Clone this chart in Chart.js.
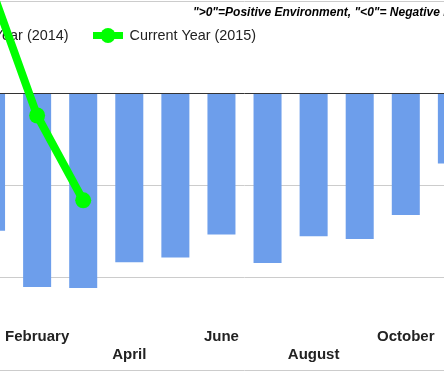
<!DOCTYPE html>
<html lang="en">
<head>
  <meta charset="UTF-8" />
  <title>Environment</title>
  <script src="https://cdn.jsdelivr.net/npm/chart.js"></script>
  <style>
    html, body {
      margin: 0;
      width: 444px;
      height: 371px;
      overflow: hidden;
      background: #fff;
    }

    #chart {
      position: absolute;
      left: -40px;
      top: -100px;
    }
  </style>
</head>
<body>

<canvas id="chart" width="600" height="490"></canvas>

<script>
  const months = ['January', 'February', 'March', 'April', 'May', 'June',
    'July', 'August', 'September', 'October', 'November', 'December'];
  const prevYear = [-1.49, -2.10, -2.11, -1.83, -1.78, -1.53, -1.84, -1.55, -1.58, -1.32, -0.76, -0.60];
  const currYear = [1.15, -0.24, -1.16, null, null, null, null, null, null, null, null, null];
  const prevLabel = 'Previous Year (2014)';
  const currLabel = 'Current Year (2015)';
  const titleText = '">0"=Positive Environment, "<0"= Negative Environment';
  const yMin = -3;
  const yMax = 2;

  const blue = '#6d9eeb';
  const green = '#00ff00';

  // title + legend drawn under the datasets, like the original
  const headerPlugin = {
    id: 'header',
    beforeDatasetsDraw(chart) {
      const ctx = chart.ctx;
      ctx.save();
      ctx.translate(40, 100);

      ctx.fillStyle = '#000';
      ctx.font = 'italic bold 12px "Liberation Sans", Arial, sans-serif';
      ctx.textBaseline = 'middle';
      ctx.textAlign = 'left';
      ctx.fillText(titleText, 193, 12.5);

      ctx.font = '14.4px "Liberation Sans", Arial, sans-serif';
      ctx.fillStyle = '#222';
      const prevW = ctx.measureText(prevLabel).width;
      const prevX = 68.5 - prevW;
      ctx.fillText(prevLabel, prevX, 36);
      ctx.fillStyle = blue;
      ctx.fillRect(prevX - 22, 29, 14, 14);

      ctx.strokeStyle = green;
      ctx.lineWidth = 7;
      ctx.beginPath();
      ctx.moveTo(93, 35.5);
      ctx.lineTo(123, 35.5);
      ctx.stroke();
      ctx.fillStyle = green;
      ctx.beginPath();
      ctx.arc(108, 35.5, 7.5, 0, Math.PI * 2);
      ctx.fill();

      ctx.fillStyle = '#222';
      ctx.fillText(currLabel, 129.5, 36);
      ctx.restore();
    }
  };

  new Chart(document.getElementById('chart'), {
    data: {
      labels: months,
      datasets: [
        {
          type: 'line',
          label: currLabel,
          data: currYear,
          borderColor: green,
          backgroundColor: green,
          borderWidth: 8,
          pointRadius: 8,
          pointBackgroundColor: green,
          pointBorderWidth: 0,
          spanGaps: false,
          order: 0
        },
        {
          type: 'bar',
          label: prevLabel,
          data: prevYear,
          backgroundColor: blue,
          categoryPercentage: 0.8,
          barPercentage: 0.76,
          order: 1
        }
      ]
    },
    plugins: [headerPlugin],
    options: {
      responsive: false,
      animation: false,
      layout: {
        padding: { left: 8, right: 39, top: 9, bottom: 0 }
      },
      plugins: {
        legend: { display: false },
        title: { display: false },
        tooltip: { enabled: false }
      },
      scales: {
        x: {
          offset: true,
          grid: { display: false, drawTicks: false },
          border: { display: false },
          afterFit: (scale) => { scale.height = 20; },
          ticks: {
            autoSkip: false,
            maxRotation: 0,
            mirror: true,
            padding: 24,
            color: '#222',
            font: { family: '"Liberation Sans", Arial, sans-serif', size: 15, weight: 'bold', lineHeight: 1.22 },
            callback: (value, index) => {
              if (index % 2 === 0) return '';
              return index % 4 === 1 ? months[index] : ['', months[index]];
            }
          }
        },
        y: {
          min: yMin,
          max: yMax,
          ticks: { display: false, stepSize: 1 },
          border: { display: false },
          grid: {
            drawTicks: false,
            color: (c) => c.tick && c.tick.value === 0 ? '#333' : '#cccccc'
          }
        }
      }
    }
  });
</script>

</body>
</html>
